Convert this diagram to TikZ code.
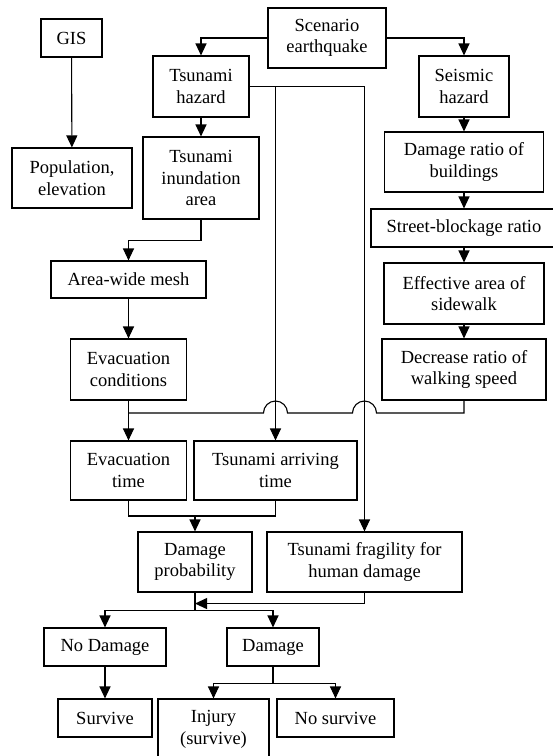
\documentclass[tikz,border=0pt]{standalone}
\usepackage{fontspec}
\setmainfont{Liberation Serif}
\usetikzlibrary{arrows.meta,calc}
\tikzset{
  blk/.style={draw, line width=1.1pt, align=center, inner sep=0pt, font=\rmfamily\fontsize{18.5}{21.5}\selectfont},
  arr/.style={-{Triangle[width=11pt,length=12pt]}},
}
\begin{document}
\begin{tikzpicture}[x=1pt,y=-1pt,line width=1.1pt]
        \useasboundingbox (0,0) rectangle (553,756);
        % boxes
        \node[blk, minimum width=61, minimum height=38] (gis) at (71.5,38) {GIS};
        \node[blk, minimum width=120, minimum height=60] (pop) at (72,178) {Population,\\elevation};
        \node[blk, minimum width=118, minimum height=60] (scen) at (327,38) {Scenario\\earthquake};
        \node[blk, minimum width=96, minimum height=61] (tsh) at (201,86.5) {Tsunami\\hazard};
        \node[blk, minimum width=90, minimum height=61] (seis) at (464,86.5) {Seismic\\hazard};
        \node[blk, minimum width=116, minimum height=82] (inun) at (201,178) {Tsunami\\inundation\\area};
        \node[blk, minimum width=159, minimum height=60] (dmgr) at (464,162) {Damage ratio of\\buildings};
        \node[blk, minimum width=186, minimum height=38] (street) at (464,228) {Street-blockage ratio};
        \node[blk, minimum width=160, minimum height=61] (eff) at (464,293.5) {Effective area of\\sidewalk};
        \node[blk, minimum width=164, minimum height=61] (decr) at (464,369.5) {Decrease ratio of\\walking speed};
        \node[blk, minimum width=155, minimum height=37] (mesh) at (128.5,279.5) {Area-wide mesh};
        \node[blk, minimum width=116, minimum height=61] (evc) at (128.5,369.5) {Evacuation\\conditions};
        \node[blk, minimum width=116, minimum height=59] (evt) at (128.5,470.5) {Evacuation\\time};
        \node[blk, minimum width=163, minimum height=59] (arrt) at (275.5,470.5) {Tsunami arriving\\time};
        \node[blk, minimum width=114, minimum height=60] (dprob) at (195,562) {Damage\\probability};
        \node[blk, minimum width=195, minimum height=60] (frag) at (364.5,562) {Tsunami fragility for\\human damage};
        \node[blk, minimum width=122, minimum height=38] (nod) at (105,647) {No Damage};
        \node[blk, minimum width=92, minimum height=38] (dmg) at (273,647) {Damage};
        \node[blk, minimum width=94, minimum height=38] (surv) at (105,718) {Survive};
        \node[blk, minimum width=111, minimum height=61] (inj) at (213.5,729.5) {Injury\\(survive)};
        \node[blk, minimum width=117, minimum height=38] (nosurv) at (335.5,718) {No survive};

        % arrows
        \draw[arr] (scen.west) -| (tsh.north);
        \draw[arr] (scen.east) -| (seis.north);
        \draw[arr] (gis) -- (pop);
        \draw[arr] (tsh) -- (inun);
        \draw[arr] (inun.south) -- ++(0,21) -| (mesh.north);
        \draw[arr] (mesh) -- (evc);
        \draw[arr] (evc) -- (evt);
        \draw[arr] (seis) -- (dmgr);
        \draw[arr] (dmgr) -- (street);
        \draw[arr] (street) -- (eff);
        \draw[arr] (eff) -- (decr);
        \draw[arr] (tsh.east) -| (frag.north);
        \draw[arr] (tsh.east -| arrt.north) -- (arrt.north);

        % walking speed line, jumps over the two verticals
        \coordinate (mrg) at (128.5,413);
        \draw (decr.south) |- ($(frag.north |- mrg)+(12,0)$)
              arc[start angle=0, end angle=180, radius=12pt]
              -- ($(arrt.north |- mrg)+(12,0)$)
              arc[start angle=0, end angle=180, radius=12pt]
              -- (mrg);

        \coordinate (mrg2) at (195,516);
        \draw (evt.south) |- (arrt.south |- mrg2) -- (arrt.south);
        \draw[arr] (dprob.north |- mrg2) -- (dprob.north);
        \draw[arr] (frag.south) |- ($(dprob.south)+(0,11)$);

        \draw (dprob.south) -- ++(0,18) coordinate (br1);
        \draw[arr] (br1) -| (nod.north);
        \draw[arr] (br1) -| (dmg.north);
        \draw[arr] (nod) -- (surv);
        \draw (dmg.south) -- ++(0,17) coordinate (br2);
        \draw[arr] (br2) -| (inj.north);
        \draw[arr] (br2) -| (nosurv.north);
    \end{tikzpicture}
\end{document}
